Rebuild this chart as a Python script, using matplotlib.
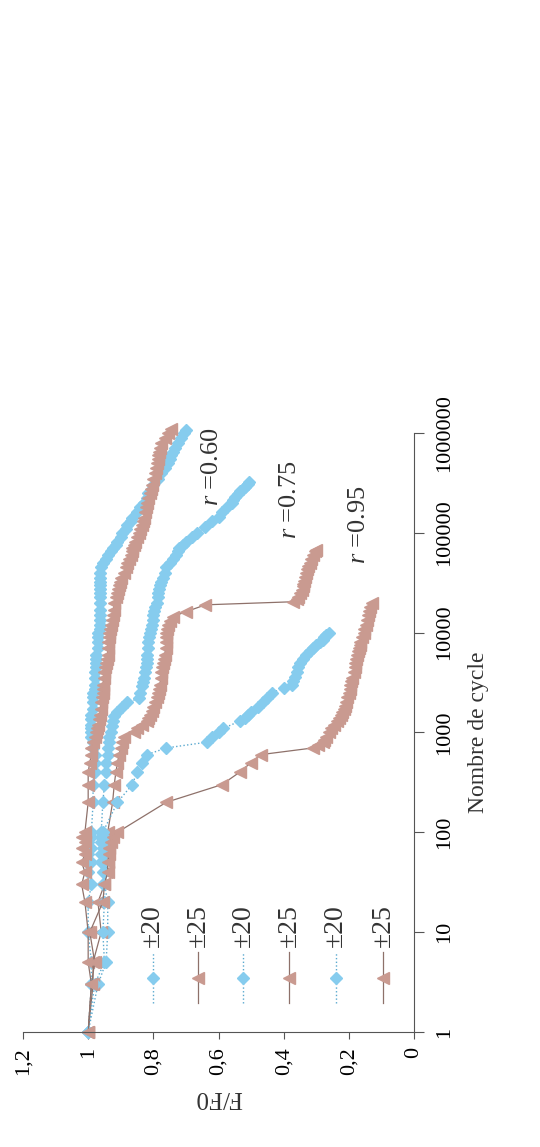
import matplotlib
matplotlib.use("Agg")
import matplotlib.pyplot as plt

plt.rcParams['font.family'] = ['Liberation Serif', 'DejaVu Serif']
plt.rcParams['mathtext.fontset'] = 'custom'
plt.rcParams['mathtext.rm'] = 'Liberation Serif'
plt.rcParams['mathtext.it'] = 'Liberation Serif:italic'

# r = 0.60, +/-20
n_a = [1, 3, 5, 10, 20, 30, 40, 50, 60, 70, 80, 90, 100,
       200, 300, 400, 500, 600, 700, 800, 900, 1000,
       1100, 1200, 1350, 1500, 1700, 2000, 2250, 2500, 2750, 3000, 3500, 4000,
       4500, 5000, 5500, 6000, 7000, 8000, 9000, 10000, 11000, 12000, 13500,
       15000, 17000, 20000, 22500, 25000, 27500, 30000, 32500, 35000, 40000,
       45000, 50000, 55000, 60000, 65000, 70000, 75000, 80000, 90000, 100000,
       110000, 120000, 130000, 140000, 160000, 180000, 200000, 225000, 250000,
       275000, 300000, 350000, 400000, 450000, 500000, 550000, 600000, 650000,
       700000, 800000, 900000, 1000000, 1070000]
f_a = [1.00, 0.99, 0.99, 1.00, 1.00, 0.99, 1.00, 0.99, 1.00, 0.99, 1.00, 0.99, 0.99,
       0.985, 0.985, 0.98, 0.98, 0.98, 0.985, 0.985, 0.99, 0.99,
       0.99, 0.99, 0.99, 0.99, 0.985, 0.985, 0.985, 0.985, 0.98, 0.98, 0.98, 0.98,
       0.975, 0.975, 0.975, 0.975, 0.97, 0.97, 0.97, 0.97, 0.965, 0.965, 0.965,
       0.965, 0.965, 0.965, 0.965, 0.965, 0.965, 0.965, 0.965, 0.965, 0.965,
       0.96, 0.955, 0.945, 0.94, 0.93, 0.925, 0.915, 0.91, 0.90, 0.895,
       0.885, 0.88, 0.87, 0.865, 0.85, 0.84, 0.83, 0.82, 0.815,
       0.805, 0.80, 0.785, 0.775, 0.765, 0.755, 0.75, 0.745, 0.74,
       0.735, 0.725, 0.715, 0.705, 0.70]

# r = 0.60, +/-25
n_b = [1, 3, 5, 10, 20, 30, 40, 50, 60, 70, 80, 90, 100,
       200, 300, 400, 500, 600, 700, 800, 900, 1000,
       1100, 1200, 1350, 1500, 1700, 2000, 2250, 2500, 2750, 3000, 3500, 4000,
       4500, 5000, 5500, 6000, 7000, 8000, 9000, 10000, 11000, 12000, 13500,
       15000, 17000, 20000, 22500, 25000, 27500, 30000, 32500, 35000, 40000,
       45000, 50000, 55000, 60000, 65000, 70000, 75000, 80000, 90000, 100000,
       110000, 120000, 130000, 140000, 160000, 180000, 200000, 225000, 250000,
       275000, 300000, 350000, 400000, 450000, 500000, 550000, 600000, 650000,
       700000, 800000, 900000, 1000000, 1100000]
f_b = [1.00, 0.99, 1.00, 1.00, 1.01, 1.02, 1.01, 1.02, 1.01, 1.02, 1.01, 1.02, 1.01,
       1.00, 1.00, 1.00, 0.995, 0.99, 0.99, 0.985, 0.98, 0.975,
       0.972, 0.97, 0.967, 0.965, 0.962, 0.96, 0.958, 0.955, 0.955, 0.955, 0.952, 0.95,
       0.947, 0.945, 0.942, 0.94, 0.94, 0.94, 0.937, 0.935, 0.932, 0.93, 0.927,
       0.925, 0.922, 0.92, 0.915, 0.91, 0.907, 0.905, 0.902, 0.90, 0.89,
       0.885, 0.88, 0.875, 0.87, 0.867, 0.865, 0.86, 0.855, 0.85, 0.845,
       0.84, 0.835, 0.832, 0.83, 0.825, 0.822, 0.82, 0.815, 0.81,
       0.807, 0.805, 0.80, 0.795, 0.792, 0.79, 0.787, 0.785, 0.782,
       0.78, 0.775, 0.765, 0.755, 0.745]

# r = 0.75, +/-20
n_c = [1, 3, 5, 10, 20, 30, 40, 50, 60, 70, 80, 90, 100,
       200, 300, 400, 500, 600, 700, 800, 900, 1000,
       1150, 1300, 1450, 1600, 1800, 2000, 2200, 2500, 2900, 3200, 3500, 4000,
       4500, 5000, 5500, 6000, 7000, 8000, 9000, 10000, 11000, 12000, 13500,
       15000, 16500, 18000, 20000, 22500, 25000, 27500, 30000, 32500, 35000,
       40000, 45000, 50000, 55000, 60000, 65000, 70000, 75000, 80000, 90000,
       100000, 115000, 130000, 145000, 160000, 180000, 200000, 215000, 230000,
       245000, 260000, 275000, 290000, 305000, 320000]
f_c = [1.00, 0.97, 0.945, 0.94, 0.94, 0.95, 0.955, 0.96, 0.96, 0.955, 0.96, 0.96, 0.96,
       0.955, 0.95, 0.945, 0.945, 0.94, 0.94, 0.935, 0.935, 0.93,
       0.927, 0.925, 0.92, 0.91, 0.895, 0.88, 0.845, 0.84, 0.835, 0.833, 0.83, 0.825,
       0.823, 0.82, 0.82, 0.82, 0.817, 0.815, 0.812, 0.81, 0.807, 0.805, 0.802,
       0.80, 0.797, 0.795, 0.79, 0.787, 0.785, 0.782, 0.78, 0.775, 0.77,
       0.765, 0.76, 0.75, 0.74, 0.73, 0.725, 0.72, 0.71, 0.70, 0.68,
       0.665, 0.64, 0.62, 0.60, 0.59, 0.575, 0.56, 0.555, 0.55,
       0.54, 0.535, 0.525, 0.52, 0.51, 0.505]

# r = 0.75, +/-25
n_d = [1, 3, 5, 10, 20, 30, 40, 50, 60, 70, 80, 90, 100,
       200, 300, 400, 500, 600, 700, 800, 900, 1000,
       1100, 1200, 1300, 1400, 1500, 1650, 1800, 2000, 2250, 2500, 2750, 3000,
       3500, 4000, 4500, 5000, 5500, 6000, 7000, 8000, 9000, 10000, 11000,
       12000, 13000, 14500, 16200, 19000, 20400, 21500, 23000, 25000, 27000,
       29000, 31000, 33000, 36000, 40000, 43000, 46000, 50000, 55000, 60000,
       65000, 68000]
f_d = [1.00, 0.985, 0.985, 0.96, 0.97, 0.95, 0.945, 0.94, 0.945, 0.94, 0.945, 0.94, 0.94,
       0.925, 0.92, 0.915, 0.91, 0.905, 0.90, 0.895, 0.89, 0.86,
       0.85, 0.835, 0.82, 0.815, 0.81, 0.805, 0.80, 0.795, 0.79, 0.785, 0.782, 0.78,
       0.777, 0.775, 0.772, 0.77, 0.767, 0.765, 0.762, 0.76, 0.76, 0.76, 0.757,
       0.755, 0.75, 0.74, 0.70, 0.64, 0.37, 0.36, 0.355, 0.35, 0.345,
       0.342, 0.34, 0.337, 0.335, 0.33, 0.327, 0.325, 0.32, 0.315, 0.31,
       0.305, 0.30]

# r = 0.95, +/-20
n_e = [1, 3, 5, 10, 20, 30, 40, 50, 60, 70, 80, 90, 100,
       200, 300, 400, 500, 600, 700, 800, 900, 1000, 1100,
       1300, 1400, 1500, 1600, 1800, 2000, 2200, 2500, 2800, 3000, 3300,
       3600, 4000, 4500, 5000, 5500, 6000, 6500, 7000, 7500, 8000, 8500,
       9000, 9500, 10000]
f_e = [1.00, 0.98, 0.95, 0.955, 0.95, 0.955, 0.95, 0.95, 0.955, 0.95, 0.955, 0.95, 0.955,
       0.91, 0.865, 0.85, 0.835, 0.82, 0.76, 0.635, 0.62, 0.60, 0.585,
       0.535, 0.52, 0.51, 0.50, 0.48, 0.465, 0.45, 0.435, 0.40, 0.375, 0.37,
       0.365, 0.36, 0.355, 0.35, 0.34, 0.33, 0.32, 0.31, 0.30, 0.29, 0.28,
       0.275, 0.27, 0.26]

# r = 0.95, +/-25
n_f = [1, 3, 5, 10, 20, 30, 40, 50, 60, 70, 80, 90, 100,
       200, 300, 400, 500, 600, 700, 750, 800, 850, 900, 1000, 1100,
       1200, 1300, 1400, 1500, 1600, 1700, 1850, 2000, 2250, 2500, 2750, 3000,
       3250, 3500, 4000, 4500, 5000, 5500, 6000, 6500, 7000, 7500, 8000, 9000,
       10000, 11000, 12000, 13500, 15000, 16500, 18000, 20000]
f_f = [1.00, 0.99, 0.98, 0.995, 0.955, 0.95, 0.94, 0.94, 0.935, 0.935, 0.93, 0.925, 0.91,
       0.76, 0.59, 0.535, 0.50, 0.47, 0.31, 0.295, 0.28, 0.275, 0.27, 0.26, 0.255,
       0.245, 0.235, 0.23, 0.225, 0.22, 0.215, 0.212, 0.21, 0.205, 0.20, 0.197, 0.195,
       0.192, 0.19, 0.185, 0.182, 0.18, 0.177, 0.175, 0.172, 0.17, 0.167, 0.165, 0.16,
       0.155, 0.152, 0.148, 0.144, 0.14, 0.137, 0.135, 0.13]

series = [(n_a, f_a, '±20'), (n_b, f_b, '±25'),
          (n_c, f_c, '±20'), (n_d, f_d, '±25'),
          (n_e, f_e, '±20'), (n_f, f_f, '±25')]

ratio_labels = ['0.60', '0.75', '0.95']
ratio_pos = [(0.62, 457000), (0.38, 214000), (0.17, 120000)]

f_ticks = [0, 0.2, 0.4, 0.6, 0.8, 1.0, 1.2]
f_tick_labels = ['0', '0,2', '0,4', '0,6', '0,8', '1', '1,2']
n_ticks = [1, 10, 100, 1000, 10000, 100000, 1000000]
n_tick_labels = ['1', '10', '100', '1000', '10000', '100000', '1000000']

blue_mk, blue_ln = '#86ccee', '#5aa9cf'
brown_mk, brown_ln = '#c99a90', '#8e716a'
styles = [dict(marker='D', ms=6.5, mfc=blue_mk, mec=blue_mk, color=blue_ln, ls=':', lw=1.0),
          dict(marker='<', ms=8.5, mfc=brown_mk, mec=brown_mk, color=brown_ln, ls='-', lw=0.9)]

fig = plt.figure(figsize=(5.4, 11.47), dpi=100)
ax = fig.add_axes([0.0426, 0.1003, 0.7241, 0.5222])

# figure is laid out turned a quarter turn: F/F0 runs right-to-left, cycles bottom-to-top
for i, (n, f, lab) in enumerate(series):
    ax.plot(f, n, clip_on=False, **styles[i % 2])

ax.set_yscale('log')
ax.set_xlim(1.2, 0)
ax.set_ylim(1, 1e6)
ax.set_xticks(f_ticks)
ax.set_xticklabels(f_tick_labels, rotation=90, fontsize=16)
ax.set_yticks(n_ticks)
ax.set_yticklabels(n_tick_labels, rotation=90, fontsize=16, va='center')
ax.yaxis.set_minor_locator(matplotlib.ticker.NullLocator())
ax.yaxis.tick_right()
ax.yaxis.set_label_position('right')
ax.tick_params(axis='x', direction='out', length=5, width=0.8, color='#555555', pad=6)
ax.tick_params(axis='y', direction='out', length=7, width=0.8, color='#555555', pad=8)
for s in ['left', 'top']:
    ax.spines[s].set_visible(False)
for s in ['bottom', 'right']:
    ax.spines[s].set_color('#555555')
    ax.spines[s].set_linewidth(0.8)

ax.set_xlabel('F/F0', rotation=180, fontsize=18, labelpad=8, color='#333333')
ax.set_ylabel('Nombre de cycle', rotation=90, fontsize=17, labelpad=10, color='#333333')

for lab, (fx, ny) in zip(ratio_labels, ratio_pos):
    ax.text(fx, ny, '$r$ =' + lab, rotation=90, fontsize=19, ha='center', va='center',
            color='#333333')

# legend entries laid out along the F axis
leg_x = [0.332, 0.448, 0.563, 0.680, 0.800, 0.921]
for i, (n, f, lab) in enumerate(series):
    st = styles[i % 2]
    ax.plot([leg_x[i], leg_x[i]], [0.0484, 0.1336], transform=ax.transAxes,
            color=st['color'], ls=st['ls'], lw=st['lw'], clip_on=False)
    ax.plot([leg_x[i]], [0.090], transform=ax.transAxes, marker=st['marker'],
            ms=st['ms'], mfc=st['mfc'], mec=st['mec'], ls='none', clip_on=False)
    ax.text(leg_x[i], 0.142, lab, transform=ax.transAxes, rotation=90, fontsize=20,
            ha='center', va='bottom', color='#333333')

fig.savefig('out.png', dpi=100)
